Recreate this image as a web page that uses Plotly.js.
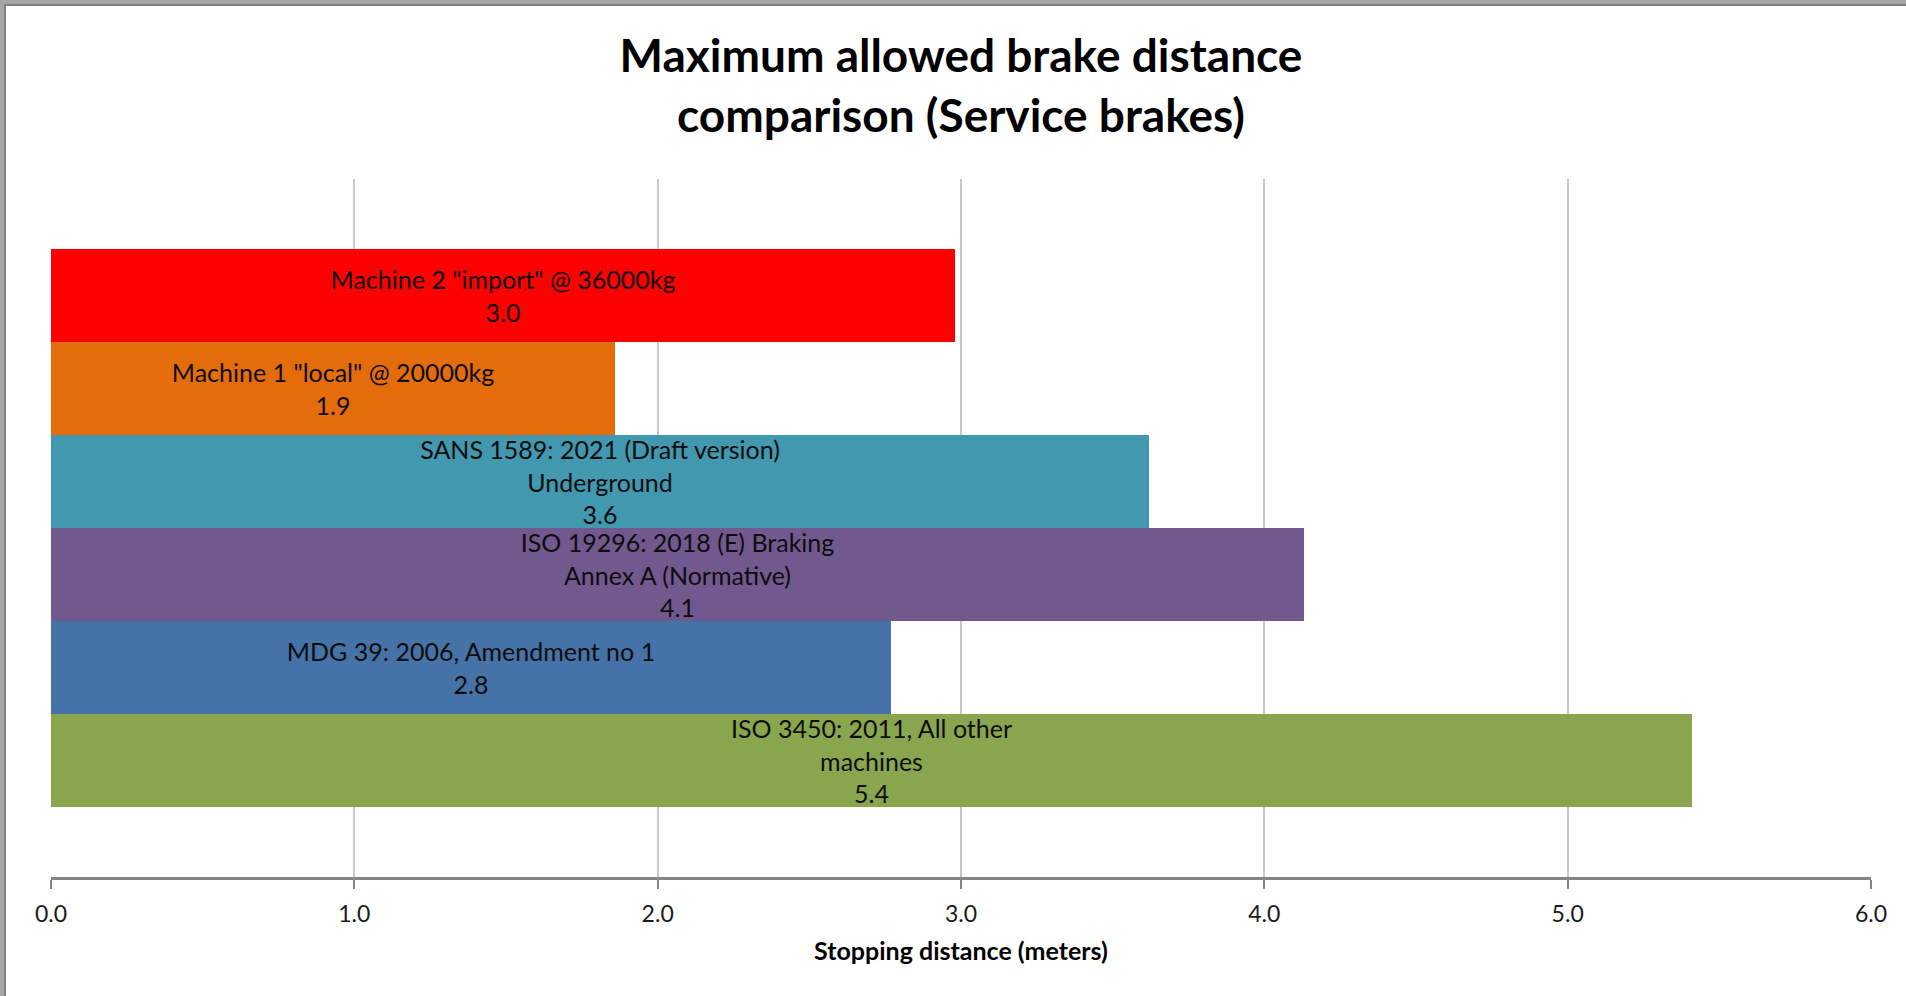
<!DOCTYPE html>
<html>
<head>
<meta charset="utf-8">
<script src="https://cdn.plot.ly/plotly-3.0.1.min.js"></script>
<style>
  html, body { margin: 0; padding: 0; background: #a6a6a6; overflow: hidden; }
  #frame {
    position: absolute; left: 4px; top: 4px;
    width: 1902px; height: 992px; box-sizing: border-box;
    border-left: 2px solid #7f7f7f; border-top: 2px solid #7f7f7f;
    background: #ffffff;
  }
  #chart { width: 1900px; height: 990px; }
</style>
</head>
<body>
<div id="frame"><div id="chart"></div></div>
<script>
// Categories listed bottom-to-top (first category is drawn at the bottom)
const categories = [
  'ISO 3450: 2011, All other<br>machines',
  'MDG 39: 2006, Amendment no 1',
  'ISO 19296: 2018 (E) Braking<br>Annex A (Normative)',
  'SANS 1589: 2021 (Draft version)<br>Underground',
  'Machine 1 "local" @ 20000kg',
  'Machine 2 "import" @ 36000kg'
];
const stoppingDistance = [5.41, 2.77, 4.13, 3.62, 1.86, 2.98];
const barColors = ['#89A54E', '#4572A7', '#71588F', '#4198AF', '#E46C0A', '#FF0000'];
const xTickValues = [0, 1, 2, 3, 4, 5, 6];
const xTickLabels = ['0.0', '1.0', '2.0', '3.0', '4.0', '5.0', '6.0'];

const FONT = 'Lato, Carlito, Calibri, "Open Sans", sans-serif';

const trace = {
  type: 'bar',
  orientation: 'h',
  y: categories,
  x: stoppingDistance,
  text: categories,
  texttemplate: '%{text}<br>%{x:.1f}',
  textposition: 'inside',
  insidetextanchor: 'middle',
  textangle: 0,
  constraintext: 'none',
  insidetextfont: { family: FONT, size: 25, color: '#0d0d0d' },
  marker: { color: barColors, line: { width: 0 } },
  hoverinfo: 'x+y',
  showlegend: false
};

const layout = {
  width: 1900,
  height: 990,
  paper_bgcolor: '#ffffff',
  plot_bgcolor: '#ffffff',
  margin: { l: 44.5, r: 35, t: 173, b: 118.7, pad: 0 },
  font: { family: FONT, color: '#000000' },
  title: {
    text: '<b>Maximum allowed brake distance<br>comparison (Service brakes)</b>',
    font: { family: FONT, size: 46, color: '#000000' },
    x: 0.5, xanchor: 'center',
    xref: 'paper',
    y: 1 - 66 / 990, yanchor: 'middle', yref: 'container'
  },
  bargap: 0,
  xaxis: {
    range: [0, 6],
    tickvals: xTickValues,
    ticktext: xTickLabels,
    tickfont: { family: FONT, size: 23, color: '#1a1a1a' },
    showgrid: true,
    gridcolor: '#c8c8c8',
    gridwidth: 2,
    zeroline: false,
    showline: true,
    linecolor: '#868686',
    linewidth: 3,
    ticks: 'outside',
    ticklen: 9,
    tickwidth: 2,
    tickcolor: '#868686',
    ticklabelstandoff: 5,
    fixedrange: true,
    title: {
      text: '<b>Stopping distance (meters)</b>',
      font: { family: FONT, size: 25, color: '#000000' },
      standoff: 17
    }
  },
  yaxis: {
    type: 'category',
    categoryorder: 'array',
    categoryarray: categories,
    range: [-1.25, 6.25],
    showticklabels: false,
    showgrid: false,
    zeroline: false,
    showline: false,
    ticks: '',
    fixedrange: true
  }
};

Plotly.newPlot('chart', [trace], layout, { displayModeBar: false });
</script>
</body>
</html>
